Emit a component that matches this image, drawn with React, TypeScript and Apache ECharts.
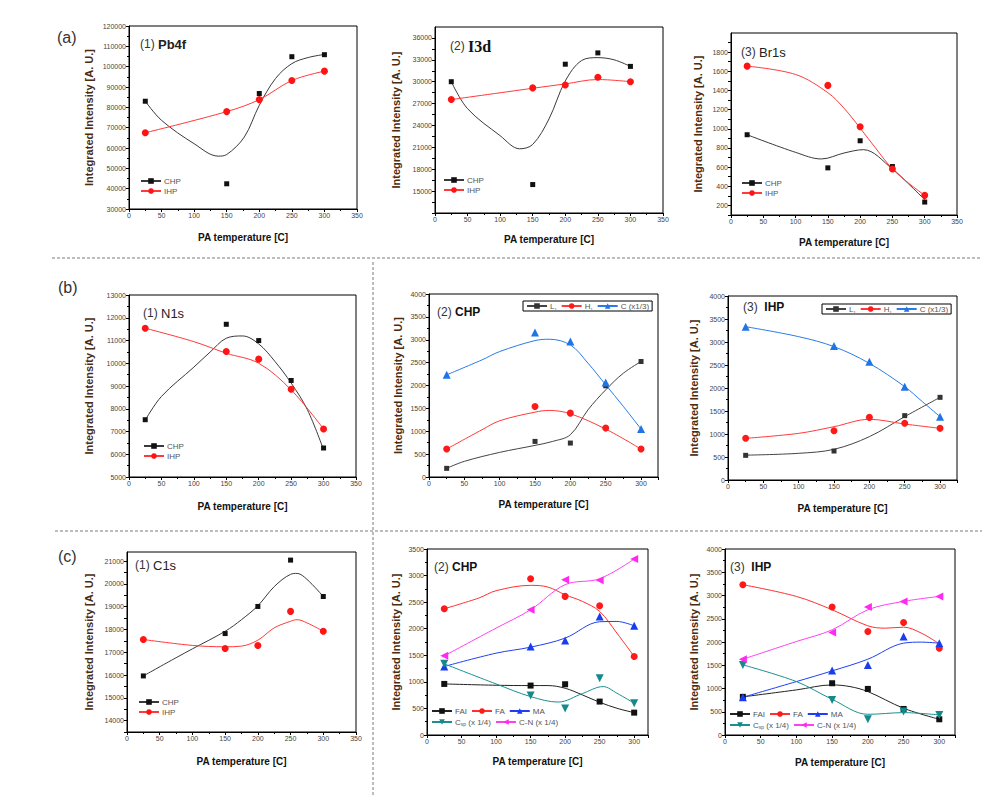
import React, { useEffect, useRef } from "react";
import * as echarts from "echarts";

// ---------- data (PA temperature in C) ----------
const T5 = [25, 150, 200, 250, 300];

// (a)(1) Pb4f
const pbCHP = [83000, 42400, 86800, 104900, 105900];
const pbCHPFitT = [25, 50, 100, 137, 150, 177, 200, 225, 250, 275, 300];
const pbCHPFit = [83000, 73600, 62100, 56000, 56800, 65400, 81000, 94200, 101500, 104500, 106000];
const pbIHP = [67500, 77900, 83800, 93200, 97800];

// (a)(2) I3d
const i3CHP = [30000, 15900, 32400, 33950, 32100];
const i3CHPFitT = [25, 50, 100, 130, 150, 175, 200, 225, 250, 275, 300];
const i3CHPFit = [30000, 26300, 22600, 20800, 21400, 24900, 30100, 32900, 33300, 33000, 32100];
const i3IHP = [27550, 29150, 29550, 30600, 30000];
const i3IHPFit = [27550, 29100, 29700, 30300, 30000];

// (a)(3) Br1s
const brCHP = [938, 592, 875, 606, 235];
const brCHPFitT = [25, 100, 140, 175, 205, 250, 275, 300];
const brCHPFit = [938, 754, 685, 747, 782, 581, 425, 260];
const brIHP = [1654, 1453, 1021, 581, 305];
const brIHPFitT = [25, 100, 150, 175, 200, 225, 250, 275, 300];
const brIHPFit = [1654, 1567, 1377, 1215, 1007, 789, 581, 433, 305];

// (b)(1) N1s
const nCHP = [7518, 11713, 10997, 9243, 6275];
const nCHPFitT = [25, 50, 100, 125, 150, 175, 200, 225, 250, 275, 300];
const nCHPFit = [7500, 8540, 9830, 10490, 11100, 11200, 10850, 10080, 9130, 7960, 6200];
const nIHP = [11540, 10515, 10180, 8860, 7110];
const nIHPFitT = [25, 100, 150, 200, 250, 300];
const nIHPFit = [11540, 10950, 10440, 10000, 8830, 7110];

// (b)(2) CHP
const bcL = [189, 778, 742, 1993, 2524];
const bcLFitT = [25, 50, 100, 150, 175, 200, 225, 250, 275, 300];
const bcLFit = [190, 342, 538, 691, 778, 924, 1469, 1905, 2269, 2524];
const bcH = [611, 1542, 1396, 1069, 611];
const bcHFitT = [25, 75, 100, 150, 170, 200, 250, 300];
const bcHFit = [611, 1033, 1229, 1418, 1455, 1382, 1047, 611];
const bcC = [2233, 3156, 2960, 2065, 1047];
const bcCFitT = [25, 75, 100, 150, 170, 200, 225, 250, 275, 300];
const bcCFit = [2233, 2560, 2742, 2982, 3011, 2887, 2487, 2015, 1542, 1047];

// (b)(3) IHP
const biLT = [25, 150, 250, 300];
const biL = [536, 630, 1399, 1797];
const biLFitT = [25, 100, 150, 200, 250, 300];
const biLFit = [540, 580, 667, 942, 1377, 1797];
const biH = [906, 1072, 1362, 1232, 1123];
const biHFitT = [25, 100, 150, 200, 250, 300];
const biHFit = [906, 1014, 1159, 1319, 1217, 1123];
const biC = [3333, 2913, 2572, 2029, 1377];
const biCFitT = [25, 100, 150, 200, 250, 275, 300];
const biCFit = [3333, 3116, 2899, 2536, 2029, 1703, 1377];

// (c)(1) C1s
const cCHP = [15961, 17820, 19010, 21044, 19446];
const cCHPFitT = [25, 75, 100, 150, 175, 200, 225, 250, 260, 275, 300];
const cCHPFit = [15960, 16760, 17150, 17920, 18430, 19040, 19880, 20420, 20460, 20200, 19446];
const cIHP = [17558, 17166, 17297, 18793, 17921];
const cIHPFitT = [25, 100, 150, 175, 200, 225, 250, 260, 275, 300];
const cIHPFit = [17560, 17300, 17240, 17270, 17530, 18070, 18360, 18430, 18290, 17921];

// (c)(2) CHP
const ccFAI = [961, 930, 955, 629, 421];
const ccFAIFitT = [25, 100, 150, 175, 200, 225, 250, 275, 300];
const ccFAIFit = [961, 936, 930, 930, 880, 754, 616, 503, 421];
const ccFA = [2376, 2941, 2608, 2432, 1477];
const ccFAFitT = [25, 75, 100, 150, 175, 200, 225, 250, 275, 300];
const ccFAFit = [2376, 2577, 2715, 2816, 2784, 2639, 2514, 2325, 1917, 1477];
const ccMA = [1289, 1665, 1779, 2231, 2055];
const ccMAFitT = [25, 100, 150, 200, 250, 275, 300];
const ccMAFit = [1289, 1540, 1653, 1823, 2131, 2137, 2055];
const ccCsp = [1339, 742, 497, 1069, 597];
const ccCspFitT = [25, 100, 150, 190, 225, 255, 275, 300];
const ccCspFit = [1339, 961, 723, 620, 780, 911, 786, 597];
const ccCN = [1490, 2357, 2923, 2910, 3311];
const ccCNFitT = [25, 100, 150, 200, 250, 300];
const ccCNFit = [1490, 2011, 2357, 2829, 2941, 3311];

// (c)(3) IHP
const ciFAI = [820, 1113, 991, 560, 338];
const ciFAIFitT = [25, 100, 150, 175, 200, 250, 300];
const ciFAIFit = [820, 970, 1077, 1041, 934, 575, 338];
const ciFA = [3232, 2751, 2226, 2420, 1867];
const ciFAFitT = [25, 100, 150, 200, 225, 250, 275, 300];
const ciFAFit = [3232, 2980, 2693, 2348, 2298, 2319, 2190, 1960];
const ciMA = [812, 1386, 1508, 2118, 1975];
const ciMAFitT = [25, 100, 150, 200, 250, 275, 300];
const ciMAFit = [812, 1149, 1379, 1630, 1975, 1997, 1975];
const ciCsp = [1508, 754, 338, 503, 431];
const ciCspFitT = [25, 100, 150, 200, 250, 300];
const ciCspFit = [1508, 1149, 768, 445, 481, 431];
const ciCN = [1630, 2204, 2751, 2873, 2980];
const ciCNFitT = [25, 100, 150, 200, 250, 300];
const ciCNFit = [1630, 2011, 2262, 2693, 2873, 2980];

// ---------- styles ----------
type Sty = { color: string; line: string; symbol: string; size: number; rot?: number };
const ST: Record<string, Sty> = {
  CHP: { color: "#111", line: "#3a3a3a", symbol: "rect", size: 5 },
  IHP: { color: "#ff1414", line: "#ff3a3a", symbol: "circle", size: 7 },
  "L,": { color: "#333", line: "#444", symbol: "rect", size: 5 },
  "H,": { color: "#ff1a1a", line: "#ff3a3a", symbol: "circle", size: 7 },
  "C (x1/3)": { color: "#1f74e6", line: "#2a7be8", symbol: "triangle", size: 8 },
  FAI: { color: "#111", line: "#222", symbol: "rect", size: 6 },
  FA: { color: "#ff1a1a", line: "#ff3030", symbol: "circle", size: 7 },
  MA: { color: "#1a3cf0", line: "#2040f0", symbol: "triangle", size: 8 },
  "Csp (x 1/4)": { color: "#168a8a", line: "#1a9090", symbol: "triangle", size: 8, rot: 180 },
  "C-N (x 1/4)": { color: "#ff2af0", line: "#ff40f0", symbol: "triangle", size: 8, rot: 90 },
};

type Ser = { name: string; t: number[]; v: number[]; ft: number[]; fv: number[] };
type Leg = { left: number; top: number; data: string[]; orient: "vertical" | "horizontal"; box?: boolean };
type Panel = {
  g: number[];
  xMax: number;
  yMin: number;
  yMax: number;
  yInt: number;
  yFmt?: (v: number) => string;
  yGap: number;
  xGap: number;
  series: Ser[];
  legends: Leg[];
};

const panels: Panel[] = [
  {
    g: [129, 26, 228, 183], xMax: 350, yMin: 30000, yMax: 120000, yInt: 10000, yGap: 35, xGap: 23,
    series: [
      { name: "CHP", t: T5, v: pbCHP, ft: pbCHPFitT, fv: pbCHPFit },
      { name: "IHP", t: T5, v: pbIHP, ft: T5, fv: pbIHP },
    ],
    legends: [{ left: 140, top: 177, data: ["CHP", "IHP"], orient: "vertical" }],
  },
  {
    g: [435, 27, 228, 186], xMax: 350, yMin: 12000, yMax: 37500, yInt: 1500,
    yFmt: (v) => (v % 3000 === 0 && v >= 15000 && v <= 36000 ? String(v) : ""), yGap: 34, xGap: 21,
    series: [
      { name: "CHP", t: T5, v: i3CHP, ft: i3CHPFitT, fv: i3CHPFit },
      { name: "IHP", t: T5, v: i3IHP, ft: T5, fv: i3IHPFit },
    ],
    legends: [{ left: 443, top: 176, data: ["CHP", "IHP"], orient: "vertical" }],
  },
  {
    g: [731, 33, 226, 182], xMax: 350, yMin: 100, yMax: 2000, yInt: 100,
    yFmt: (v) => (v % 200 === 0 ? String(v) : ""), yGap: 28, xGap: 22,
    series: [
      { name: "CHP", t: T5, v: brCHP, ft: brCHPFitT, fv: brCHPFit },
      { name: "IHP", t: T5, v: brIHP, ft: brIHPFitT, fv: brIHPFit },
    ],
    legends: [{ left: 741, top: 179, data: ["CHP", "IHP"], orient: "vertical" }],
  },
  {
    g: [129, 295, 227, 182], xMax: 350, yMin: 5000, yMax: 13000, yInt: 1000, yGap: 35, xGap: 24,
    series: [
      { name: "CHP", t: T5, v: nCHP, ft: nCHPFitT, fv: nCHPFit },
      { name: "IHP", t: T5, v: nIHP, ft: nIHPFitT, fv: nIHPFit },
    ],
    legends: [{ left: 143, top: 442, data: ["CHP", "IHP"], orient: "vertical" }],
  },
  {
    g: [429, 294, 229, 183], xMax: 324, yMin: 0, yMax: 4000, yInt: 500, yGap: 26, xGap: 22,
    series: [
      { name: "L,", t: T5, v: bcL, ft: bcLFitT, fv: bcLFit },
      { name: "H,", t: T5, v: bcH, ft: bcHFitT, fv: bcHFit },
      { name: "C (x1/3)", t: T5, v: bcC, ft: bcCFitT, fv: bcCFit },
    ],
    legends: [{ left: 523, top: 301, data: ["L,", "H,", "C (x1/3)"], orient: "horizontal", box: true }],
  },
  {
    g: [728, 296, 229, 184], xMax: 324, yMin: 0, yMax: 4000, yInt: 500, yGap: 29, xGap: 23,
    series: [
      { name: "L,", t: biLT, v: biL, ft: biLFitT, fv: biLFit },
      { name: "H,", t: T5, v: biH, ft: biHFitT, fv: biHFit },
      { name: "C (x1/3)", t: T5, v: biC, ft: biCFitT, fv: biCFit },
    ],
    legends: [{ left: 822, top: 304, data: ["L,", "H,", "C (x1/3)"], orient: "horizontal", box: true }],
  },
  {
    g: [127, 552, 229, 180], xMax: 350, yMin: 13500, yMax: 21400, yInt: 500,
    yFmt: (v) => (v % 1000 === 0 && v <= 21000 ? String(v) : ""), yGap: 33, xGap: 24,
    series: [
      { name: "CHP", t: T5, v: cCHP, ft: cCHPFitT, fv: cCHPFit },
      { name: "IHP", t: T5, v: cIHP, ft: cIHPFitT, fv: cIHPFit },
    ],
    legends: [{ left: 138, top: 698, data: ["CHP", "IHP"], orient: "vertical" }],
  },
  {
    g: [427, 549, 221, 186], xMax: 320, yMin: 0, yMax: 3500, yInt: 500, yGap: 26, xGap: 21,
    series: [
      { name: "FAI", t: T5, v: ccFAI, ft: ccFAIFitT, fv: ccFAIFit },
      { name: "FA", t: T5, v: ccFA, ft: ccFAFitT, fv: ccFAFit },
      { name: "MA", t: T5, v: ccMA, ft: ccMAFitT, fv: ccMAFit },
      { name: "Csp (x 1/4)", t: T5, v: ccCsp, ft: ccCspFitT, fv: ccCspFit },
      { name: "C-N (x 1/4)", t: T5, v: ccCN, ft: ccCNFitT, fv: ccCNFit },
    ],
    legends: [
      { left: 431, top: 707, data: ["FAI", "FA", "MA"], orient: "horizontal" },
      { left: 431, top: 718, data: ["Csp (x 1/4)", "C-N (x 1/4)"], orient: "horizontal" },
    ],
  },
  {
    g: [725, 549, 230, 186], xMax: 322, yMin: 0, yMax: 4000, yInt: 500, yGap: 26, xGap: 22,
    series: [
      { name: "FAI", t: T5, v: ciFAI, ft: ciFAIFitT, fv: ciFAIFit },
      { name: "FA", t: T5, v: ciFA, ft: ciFAFitT, fv: ciFAFit },
      { name: "MA", t: T5, v: ciMA, ft: ciMAFitT, fv: ciMAFit },
      { name: "Csp (x 1/4)", t: T5, v: ciCsp, ft: ciCspFitT, fv: ciCspFit },
      { name: "C-N (x 1/4)", t: T5, v: ciCN, ft: ciCNFitT, fv: ciCNFit },
    ],
    legends: [
      { left: 729, top: 710, data: ["FAI", "FA", "MA"], orient: "horizontal" },
      { left: 729, top: 721, data: ["Csp (x 1/4)", "C-N (x 1/4)"], orient: "horizontal" },
    ],
  },
];

// titles: [x, y, prefix, main, mainStyle]
const titles: [number, number, string, string, string][] = [
  [140, 44, "(1)", "Pb4f", "bs"],
  [450, 46, "(2)", "I3d", "serif"],
  [741, 52, "(3)", "Br1s", "n"],
  [143, 313, "(1)", "N1s", "m"],
  [437, 312, "(2)", "CHP", "b"],
  [743, 307, "(3) ", "IHP", "b"],
  [135, 565, "(1)", "C1s", "n"],
  [434, 567, "(2)", "CHP", "b"],
  [730, 567, "(3) ", "IHP", "b"],
];
const panelLabels: [number, number, string][] = [
  [57, 37, "(a)"],
  [58, 287, "(b)"],
  [58, 556, "(c)"],
];

const FONT = "'Liberation Sans', Arial, sans-serif";
const zip = (a: number[], b: number[]) => a.map((x, i) => [x, b[i]]);

function buildOption() {
  const series: any[] = [];
  panels.forEach((p, i) => {
    p.series.forEach((s) => {
      const st = ST[s.name];
      series.push({
        type: "line",
        name: s.name,
        xAxisIndex: i,
        yAxisIndex: i,
        data: zip(s.ft, s.fv),
        smooth: 0.35,
        showSymbol: false,
        symbol: st.symbol,
        symbolRotate: st.rot || 0,
        symbolSize: st.size,
        lineStyle: { color: st.line, width: 1 },
        itemStyle: { color: st.color },
        z: 2,
        silent: true,
      });
      series.push({
        type: "scatter",
        name: s.name + " data",
        xAxisIndex: i,
        yAxisIndex: i,
        data: zip(s.t, s.v),
        symbol: st.symbol,
        symbolRotate: st.rot || 0,
        symbolSize: st.size,
        itemStyle: { color: st.color, opacity: 1 },
        z: 3,
        silent: true,
      });
    });
  });

  const legends: any[] = [];
  panels.forEach((p) =>
    p.legends.forEach((l) =>
      legends.push({
        left: l.left,
        top: l.top,
        orient: l.orient,
        data: l.data,
        selectedMode: false,
        itemWidth: 20,
        itemHeight: 7,
        itemGap: l.orient === "vertical" ? 2 : 4,
        padding: l.box ? [1, 3, 1, 3] : 0,
        borderColor: l.box ? "#000" : "transparent",
        borderWidth: l.box ? 1 : 0,
        formatter: (name: string) =>
          name === "Csp (x 1/4)" ? "{n|C}{s|sp}{n| (x 1/4)}" : name,
        textStyle: {
          fontSize: 8,
          color: "#555",
          fontFamily: FONT,
          padding: [0, 0, 0, -2],
          rich: {
            n: { fontSize: 8, color: "#555", fontFamily: FONT },
            s: { fontSize: 5, color: "#555", fontFamily: FONT, padding: [4, 0, 0, 0] },
          },
        },
      })
    )
  );

  const graphic: any[] = [];
  titles.forEach(([x, y, pre, main, sty]) => {
    const mainStyle: any =
      sty === "serif"
        ? { fontSize: 16, fontWeight: "bold", fontFamily: "'Liberation Serif', 'Times New Roman', serif", fill: "#111" }
        : sty === "b"
        ? { fontSize: 12, fontWeight: "bold", fontFamily: FONT, fill: "#111" }
        : sty === "bs"
        ? { fontSize: 13, fontWeight: 600, fontFamily: FONT, fill: "#222" }
        : sty === "m"
        ? { fontSize: 13, fontWeight: 500, fontFamily: FONT, fill: "#222" }
        : { fontSize: 13, fontFamily: FONT, fill: "#222" };
    graphic.push({
      type: "text",
      x,
      y,
      silent: true,
      style: {
        text: `{a|${pre}} {b|${main}}`,
        verticalAlign: "middle",
        rich: {
          a: { fontSize: 12, fontFamily: FONT, fill: "#333" },
          b: mainStyle,
        },
      },
    });
  });
  panelLabels.forEach(([x, y, t]) =>
    graphic.push({
      type: "text",
      x,
      y,
      silent: true,
      style: { text: t, fontSize: 16, fontFamily: FONT, fill: "#333", verticalAlign: "middle" },
    })
  );
  const dash = { stroke: "#7a7a7a", lineWidth: 1, lineDash: [3, 2] };
  graphic.push({ type: "line", silent: true, shape: { x1: 52, y1: 258, x2: 982, y2: 258 }, style: dash });
  graphic.push({ type: "line", silent: true, shape: { x1: 55, y1: 531, x2: 982, y2: 531 }, style: dash });
  graphic.push({ type: "line", silent: true, shape: { x1: 373, y1: 262, x2: 373, y2: 795 }, style: dash });

  const tickStyle = { color: "#000", width: 1 };
  return {
    animation: false,
    textStyle: { fontFamily: FONT },
    grid: panels.map((p) => ({
      left: p.g[0],
      top: p.g[1],
      width: p.g[2],
      height: p.g[3],
      show: true,
      borderColor: "#000",
      borderWidth: 1,
      backgroundColor: "transparent",
    })),
    xAxis: panels.map((p, i) => ({
      type: "value",
      gridIndex: i,
      min: 0,
      max: p.xMax,
      interval: 50,
      name: "PA temperature [C]",
      nameLocation: "middle",
      nameGap: p.xGap,
      nameTextStyle: { fontSize: 10, fontWeight: "bold", color: "#111", fontFamily: FONT },
      axisLine: { show: true, onZero: false, lineStyle: tickStyle },
      axisTick: { show: true, length: 3, lineStyle: tickStyle },
      minorTick: { show: true, splitNumber: 2, length: 2, lineStyle: tickStyle },
      splitLine: { show: false },
      axisLabel: {
        fontSize: 7,
        color: "#444",
        margin: 3,
        showMaxLabel: p.xMax === 350,
        showMinLabel: true,
      },
    })),
    yAxis: panels.map((p, i) => ({
      type: "value",
      gridIndex: i,
      min: p.yMin,
      max: p.yMax,
      interval: p.yInt,
      name: "Integrated Intensity [A. U.]",
      nameLocation: "middle",
      nameGap: p.yGap,
      nameTextStyle: { fontSize: 11, fontWeight: "bold", color: "#4a2c12", fontFamily: FONT },
      axisLine: { show: true, onZero: false, lineStyle: tickStyle },
      axisTick: { show: true, length: 3, lineStyle: tickStyle },
      minorTick: { show: !p.yFmt, splitNumber: 2, length: 2, lineStyle: tickStyle },
      splitLine: { show: false },
      axisLabel: {
        fontSize: 7,
        color: "#444",
        margin: 3,
        formatter: p.yFmt ? (v: number) => p.yFmt!(v) : (v: number) => String(v),
        showMaxLabel: !p.yFmt,
        showMinLabel: true,
      },
    })),
    legend: legends,
    graphic,
    series,
  };
}

export default function App() {
  const ref = useRef<HTMLDivElement>(null);
  useEffect(() => {
    if (!ref.current) return;
    const chart = echarts.init(ref.current, undefined, { renderer: "svg" });
    chart.setOption(buildOption() as any);
    return () => chart.dispose();
  }, []);
  return (
    <div
      ref={ref}
      style={{ position: "absolute", left: 0, top: 0, width: 996, height: 808, background: "#fff" }}
    />
  );
}
